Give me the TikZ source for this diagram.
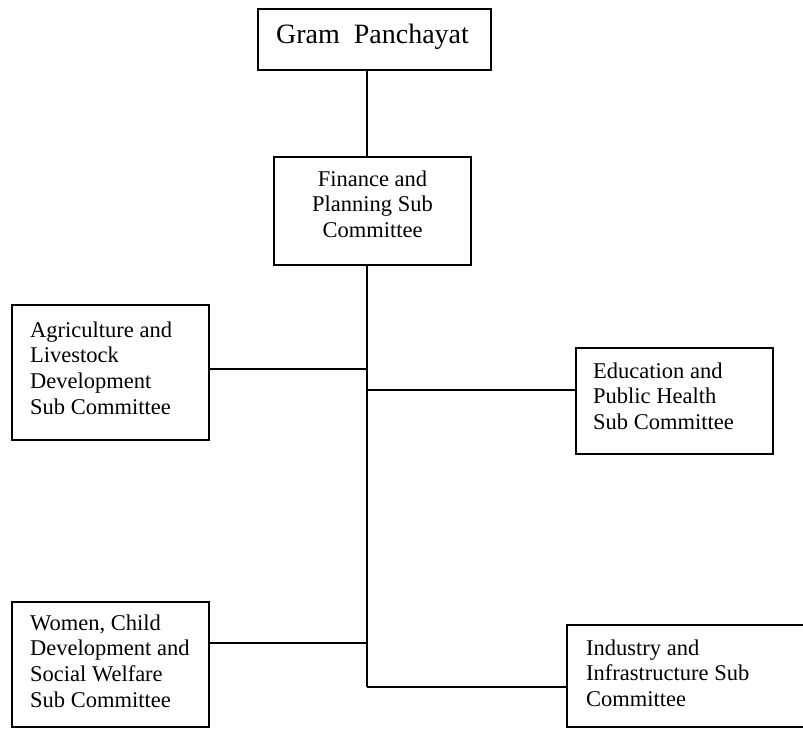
\documentclass[tikz,border=0pt]{standalone}
\usepackage{fontspec}
\setmainfont{Liberation Serif}
\begin{document}
\begin{tikzpicture}[x=1pt,y=-1pt,
  box/.style={draw, line width=1.3pt, inner sep=0pt},
  conn/.style={line width=1.3pt},
  txt/.style={inner sep=0pt, font=\fontsize{22.5}{25.8}\selectfont}]
\useasboundingbox (0,0) rectangle (803,729);
% boxes
\node[box, minimum width=233pt, minimum height=61pt] (gp) at (374.5,39.5) {};
\node[box, minimum width=197pt, minimum height=108pt] (fin) at (372.5,211) {};
\node[box, minimum width=197pt, minimum height=135pt] (agri) at (110.5,372.5) {};
\node[box, minimum width=197pt, minimum height=106pt] (edu) at (674.5,401) {};
\node[box, minimum width=197pt, minimum height=125pt] (wom) at (110.5,664.5) {};
\node[box, minimum width=243pt, minimum height=102pt] (ind) at (688.5,676) {};
% texts
\node[inner sep=0pt, anchor=base, font=\fontsize{28}{32}\selectfont] (gpt) at (372.5,43) {Gram\ \ Panchayat};
\node[txt, anchor=base] (fint) at (372.5,186) {\begin{tabular}[t]{@{}c@{}}Finance and\\Planning Sub\\Committee\end{tabular}};
\node[txt, anchor=base west] (agrit) at (30,337) {\begin{tabular}[t]{@{}l@{}}Agriculture and\\Livestock\\Development\\Sub Committee\end{tabular}};
\node[txt, anchor=base west] (edut) at (593,378) {\begin{tabular}[t]{@{}l@{}}Education and\\Public Health\\Sub Committee\end{tabular}};
\node[txt, anchor=base west] (womt) at (30,630) {\begin{tabular}[t]{@{}l@{}}Women, Child\\Development and\\Social Welfare\\Sub Committee\end{tabular}};
\node[txt, anchor=base west] (indt) at (586,655) {\begin{tabular}[t]{@{}l@{}}Industry and\\Infrastructure Sub\\Committee\end{tabular}};
% trunk junctions
\coordinate (top) at (367,70);
\coordinate (ftop) at (367,157);
\coordinate (fbot) at (367,265);
\coordinate (j1) at (367,369);
\coordinate (j2) at (367,390);
\coordinate (j3) at (367,643);
\coordinate (j4) at (367,687);
% connectors
\draw[conn] (top) -- (ftop);
\draw[conn] (fbot) -- (j4);
\draw[conn] (j1) -- (j1 -| agri.east);
\draw[conn] (j2) -- (j2 -| edu.west);
\draw[conn] (j3) -- (j3 -| wom.east);
\draw[conn] (j4) -- (j4 -| ind.west);
\end{tikzpicture}
\end{document}
